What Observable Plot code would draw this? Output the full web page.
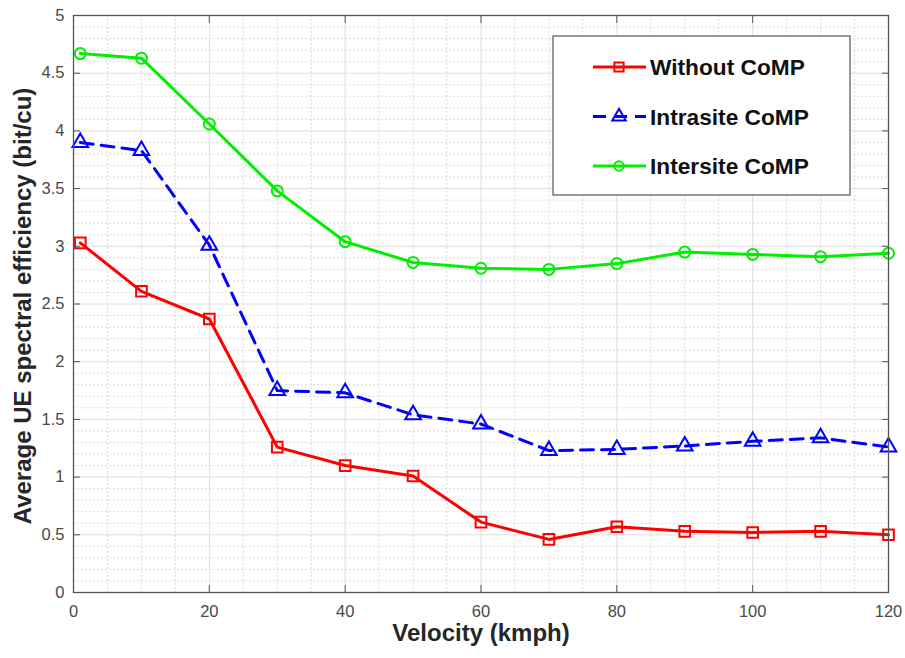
<!DOCTYPE html>
<html>
<head>
<meta charset="utf-8">
<script src="https://cdn.jsdelivr.net/npm/d3@7"></script>
<script src="https://cdn.jsdelivr.net/npm/@observablehq/plot@0.6"></script>
<style>
  html, body { margin: 0; padding: 0; background: #fff; }
  #chart { width: 905px; height: 658px; }
</style>
</head>
<body>
<div id="chart"></div>
<script>
// ---- data ----
const velocity = [1, 10, 20, 30, 40, 50, 60, 70, 80, 90, 100, 110, 120];
const withoutCoMP   = [3.03, 2.61, 2.37, 1.26, 1.10, 1.01, 0.61, 0.46, 0.57, 0.53, 0.52, 0.53, 0.50];
const intrasiteCoMP = [3.90, 3.83, 3.01, 1.75, 1.73, 1.54, 1.46, 1.23, 1.24, 1.27, 1.31, 1.34, 1.26];
const intersiteCoMP = [4.67, 4.63, 4.06, 3.48, 3.04, 2.86, 2.81, 2.80, 2.85, 2.95, 2.93, 2.91, 2.94];
const seriesNames = ["Without CoMP", "Intrasite CoMP", "Intersite CoMP"];
const xTicks = [0, 20, 40, 60, 80, 100, 120];
const yTicks = [0, 0.5, 1, 1.5, 2, 2.5, 3, 3.5, 4, 4.5, 5];
const xMinor = [5, 10, 15, 25, 30, 35, 45, 50, 55, 65, 70, 75, 85, 90, 95, 105, 110, 115];
const yMinor = [0.1,0.2,0.3,0.4,0.6,0.7,0.8,0.9,1.1,1.2,1.3,1.4,1.6,1.7,1.8,1.9,2.1,2.2,2.3,2.4,2.6,2.7,2.8,2.9,3.1,3.2,3.3,3.4,3.6,3.7,3.8,3.9,4.1,4.2,4.3,4.4,4.6,4.7,4.8,4.9];
const xLabel = "Velocity (kmph)";
const yLabel = "Average UE spectral efficiency (bit/cu)";

// ---- styles ----
const styles = [
  {name: seriesNames[0], values: withoutCoMP,   color: "#ff0000", dash: null,   symbol: "square",   r: 6},
  {name: seriesNames[1], values: intrasiteCoMP, color: "#0000ff", dash: "13,8", symbol: "triangle", r: 5.8},
  {name: seriesNames[2], values: intersiteCoMP, color: "#00ee00", dash: null,   symbol: "circle",   r: 5.5}
];
const tables = styles.map(s => velocity.map((v, i) => ({v, eff: s.values[i], series: s.name})));

const font = "'Liberation Sans', Arial, Helvetica, sans-serif";

const marks = [
  Plot.ruleX(xMinor, {stroke: "#cfcfcf", strokeDasharray: "1.5,2.5"}),
  Plot.ruleY(yMinor, {stroke: "#cfcfcf", strokeDasharray: "1.5,2.5"}),
  Plot.ruleX(xTicks, {stroke: "#dedede"}),
  Plot.ruleY(yTicks, {stroke: "#dedede"}),
];
styles.forEach((s, k) => {
  marks.push(Plot.line(tables[k], {x: "v", y: "eff", stroke: s.color, strokeWidth: 3, strokeDasharray: s.dash}));
  marks.push(Plot.dot(tables[k], {x: "v", y: "eff", symbol: s.symbol, r: s.r, stroke: s.color, strokeWidth: 2, fill: "none"}));
});
marks.push(
  Plot.frame({stroke: "#555", strokeWidth: 1.3}),
  Plot.axisX({ticks: xTicks, anchor: "bottom", tickSize: -7, tickFormat: () => "", label: null, color: "#555"}),
  Plot.axisX({ticks: xTicks, anchor: "top", tickSize: -7, tickFormat: () => "", label: null, color: "#555"}),
  Plot.axisY({ticks: yTicks, anchor: "left", tickSize: -7, tickFormat: () => "", label: null, color: "#555"}),
  Plot.axisY({ticks: yTicks, anchor: "right", tickSize: -7, tickFormat: () => "", label: null, color: "#555"}),
  Plot.axisX({ticks: xTicks, anchor: "bottom", tickSize: 0, tickPadding: 13, tickFormat: d => String(d), label: null, color: "#4a4a4a", fontSize: 16.5}),
  Plot.axisY({ticks: yTicks, anchor: "left", tickSize: 0, tickPadding: 9, tickFormat: d => String(d), label: null, color: "#4a4a4a", fontSize: 16.5}),
  Plot.text([xLabel], {frameAnchor: "bottom", dy: 48, text: d => d, textAnchor: "middle", fontSize: 24, fontWeight: "bold", fill: "#262626"}),
  Plot.text([yLabel], {frameAnchor: "left", dx: -50, dy: 2, rotate: -90, text: d => d, textAnchor: "middle", fontSize: 24, fontWeight: "bold", fill: "#262626"})
);

const chart = Plot.plot({
  width: 905,
  height: 658,
  marginLeft: 73,
  marginRight: 17,
  marginTop: 15,
  marginBottom: 66,
  style: {fontFamily: font, fontSize: "16px", background: "#fff", overflow: "visible"},
  x: {domain: [0, 120], axis: null},
  y: {domain: [0, 5], axis: null},
  marks
});

// ---- legend (MATLAB-style box, top right) ----
const svg = d3.select(chart);
const lg = svg.append("g").attr("transform", "translate(553,36)");
lg.append("rect").attr("width", 297).attr("height", 159).attr("fill", "#fff").attr("stroke", "#555").attr("stroke-width", 1.2);
const symMap = {square: d3.symbolSquare, triangle: d3.symbolTriangle, circle: d3.symbolCircle};
styles.forEach((s, i) => {
  const y = 31 + i * 49.5;
  const row = lg.append("g").attr("transform", `translate(0,${y})`);
  row.append("line").attr("x1", 40).attr("x2", 93).attr("y1", 0).attr("y2", 0)
    .attr("stroke", s.color).attr("stroke-width", 3).attr("stroke-dasharray", s.dash);
  row.append("path").attr("transform", "translate(66,0)")
    .attr("d", d3.symbol(symMap[s.symbol], Math.PI * (s.r - 0.8) * (s.r - 0.8))())
    .attr("fill", "none").attr("stroke", s.color).attr("stroke-width", 2);
  row.append("text").attr("x", 97).attr("y", 0).attr("dy", "0.36em")
    .attr("text-anchor", "start")
    .attr("font-family", font).attr("font-size", 22.7).attr("font-weight", "bold").attr("fill", "#111")
    .text(s.name);
});

document.getElementById("chart").appendChild(chart);
</script>
</body>
</html>
